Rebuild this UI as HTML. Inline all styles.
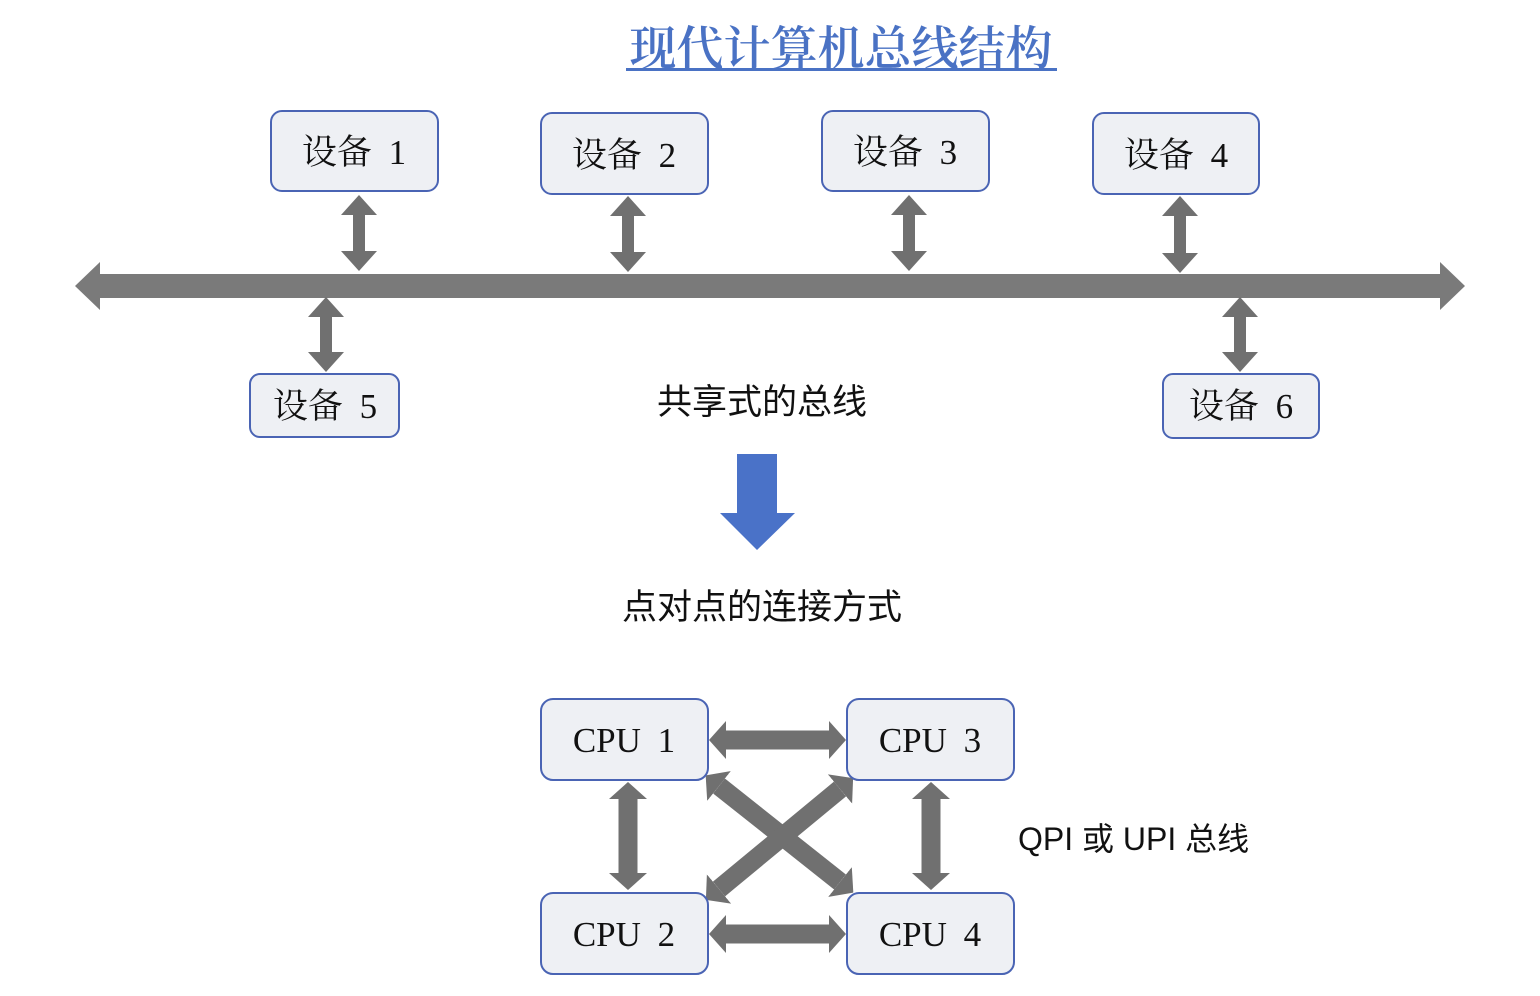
<!DOCTYPE html>
<html><head><meta charset="utf-8"><style>
body{margin:0;background:#fff;}
svg{display:block}
.b{fill:#eef0f4;stroke:#4a64b4;stroke-width:2}
.t{font-family:"Liberation Serif","Noto Serif CJK SC",serif;font-size:35px;fill:#111;text-anchor:middle;word-spacing:8px}
.s{font-family:"Liberation Sans","Noto Sans CJK SC",sans-serif;font-size:35px;fill:#111}
</style></head><body>
<svg width="1540" height="996" viewBox="0 0 1540 996" xmlns="http://www.w3.org/2000/svg">
<defs>
<marker id="mb" markerUnits="userSpaceOnUse" viewBox="0 0 25 48" refX="0" refY="24" markerWidth="25" markerHeight="48" orient="auto-start-reverse"><path d="M0,0 L25,24 L0,48z" fill="#7a7a7a"/></marker>
<marker id="md" markerUnits="userSpaceOnUse" viewBox="0 0 20 36" refX="0" refY="18" markerWidth="20" markerHeight="36" orient="auto-start-reverse"><path d="M0,0 L20,18 L0,36z" fill="#707070"/></marker>
<marker id="mc" markerUnits="userSpaceOnUse" viewBox="0 0 17 38" refX="0" refY="19" markerWidth="17" markerHeight="38" orient="auto-start-reverse"><path d="M0,0 L17,19 L0,38z" fill="#707070"/></marker>
</defs>
<text x="841" y="65" font-family="'Noto Serif CJK SC',serif" font-size="47" font-weight="600" fill="#4a72c4" text-anchor="middle">现代计算机总线结构</text>
<rect x="626" y="68" width="431" height="3" fill="#4a72c4"/>
<line x1="100" y1="286" x2="1440" y2="286" stroke="#7a7a7a" stroke-width="24" marker-start="url(#mb)" marker-end="url(#mb)"/>
<g stroke="#707070" stroke-width="12" marker-start="url(#md)" marker-end="url(#md)">
<line x1="359" y1="215" x2="359" y2="251"/>
<line x1="628" y1="216" x2="628" y2="252"/>
<line x1="909" y1="215" x2="909" y2="251"/>
<line x1="1180" y1="216" x2="1180" y2="253"/>
<line x1="326" y1="317" x2="326" y2="352"/>
<line x1="1240" y1="317" x2="1240" y2="352"/>
</g>
<rect class="b" x="271" y="111" width="167" height="80" rx="11"/><text class="t" x="354" y="164">设备 1</text>
<rect class="b" x="541" y="113" width="167" height="81" rx="11"/><text class="t" x="624" y="167">设备 2</text>
<rect class="b" x="822" y="111" width="167" height="80" rx="11"/><text class="t" x="905" y="164">设备 3</text>
<rect class="b" x="1093" y="113" width="166" height="81" rx="11"/><text class="t" x="1176" y="167">设备 4</text>
<rect class="b" x="250" y="374" width="149" height="63" rx="10"/><text class="t" x="325" y="418">设备 5</text>
<rect class="b" x="1163" y="374" width="156" height="64" rx="10"/><text class="t" x="1241" y="418">设备 6</text>
<text class="s" x="762" y="414" text-anchor="middle">共享式的总线</text>
<path d="M737,454 H777 V513 H795 L757,550 L720,513 H737z" fill="#4a72c8"/>
<text class="s" x="762" y="619" text-anchor="middle">点对点的连接方式</text>
<g stroke="#707070" stroke-width="19" marker-start="url(#mc)" marker-end="url(#mc)">
<line x1="726" y1="740" x2="829" y2="740"/>
<line x1="726" y1="934" x2="829" y2="934"/>
<line x1="628" y1="799" x2="628" y2="873"/>
<line x1="931" y1="799" x2="931" y2="873"/>
<line x1="719" y1="786" x2="840" y2="882"/>
<line x1="840" y1="789" x2="719" y2="889"/>
</g>
<rect class="b" x="541" y="699" width="167" height="81" rx="12"/><text class="t" x="624" y="752">CPU 1</text>
<rect class="b" x="847" y="699" width="167" height="81" rx="12"/><text class="t" x="930" y="752">CPU 3</text>
<rect class="b" x="541" y="893" width="167" height="81" rx="12"/><text class="t" x="624" y="946">CPU 2</text>
<rect class="b" x="847" y="893" width="167" height="81" rx="12"/><text class="t" x="930" y="946">CPU 4</text>
<text class="s" x="1018" y="850" style="font-size:32px">QPI 或 UPI 总线</text>
</svg>
</body></html>
